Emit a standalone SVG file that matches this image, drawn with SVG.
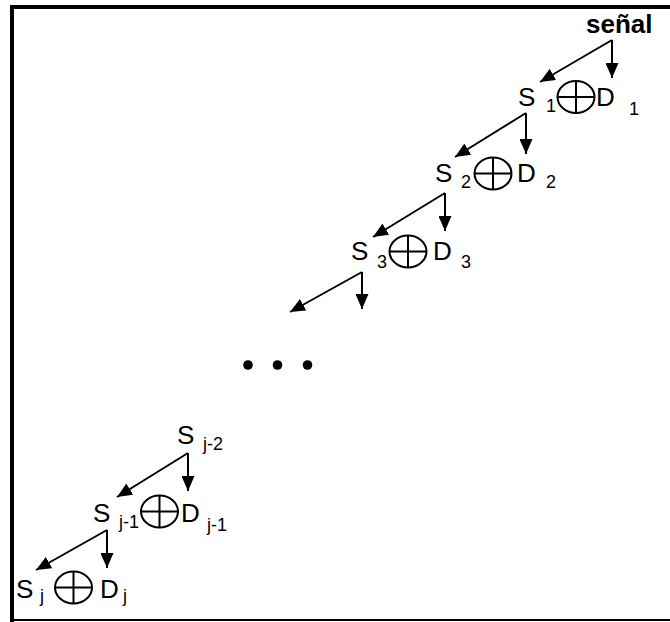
<svg xmlns="http://www.w3.org/2000/svg" width="670" height="622" viewBox="0 0 670 622">
<style>
  .t{font-family:"Liberation Sans",Arial,sans-serif;font-size:26px;fill:#000}
  .sub{font-family:"Liberation Sans",Arial,sans-serif;font-size:18px;fill:#000}
  .b{font-family:"Liberation Sans",Arial,sans-serif;font-size:26px;font-weight:bold;fill:#000}
  .op{fill:none;stroke:#000;stroke-width:2}
  .arr{stroke:#000;stroke-width:2;fill:none;marker-end:url(#ah)}
</style>
<defs>
  <marker id="ah" markerUnits="userSpaceOnUse" markerWidth="15" markerHeight="13" refX="15" refY="6.5" orient="auto">
    <path d="M0,0 L15,6.5 L0,13 Z" fill="#000"/>
  </marker>
  <g id="oplus">
    <ellipse class="op" cx="0" cy="0" rx="18.5" ry="16"/>
    <line class="op" x1="-18.5" y1="0" x2="18.5" y2="0"/>
    <line class="op" x1="0" y1="-16" x2="0" y2="16"/>
  </g>
</defs>
<rect x="0" y="0" width="670" height="622" fill="#fff"/>
<g id="frame">
  <rect x="10" y="5" width="660" height="4" fill="#000"/>
  <rect x="10" y="5" width="4" height="617" fill="#000"/>
  <rect x="10" y="619" width="660" height="2" fill="#000"/>
</g>
<g id="connectors">
  <line class="arr" x1="612" y1="40" x2="612" y2="78"/>
  <line class="arr" x1="612" y1="40" x2="540" y2="82"/>
  <line class="arr" x1="526" y1="113" x2="526" y2="154"/>
  <line class="arr" x1="526" y1="113" x2="455" y2="157"/>
  <line class="arr" x1="445" y1="193" x2="445" y2="231"/>
  <line class="arr" x1="445" y1="193" x2="373" y2="237"/>
  <line class="arr" x1="362" y1="272" x2="362" y2="309"/>
  <line class="arr" x1="362" y1="272" x2="290" y2="312"/>
  <line class="arr" x1="188" y1="453" x2="188" y2="491"/>
  <line class="arr" x1="188" y1="453" x2="117" y2="497"/>
  <line class="arr" x1="107" y1="530" x2="107" y2="568"/>
  <line class="arr" x1="107" y1="530" x2="36" y2="570"/>
</g>
<g id="signal">
  <text class="b" x="586" y="33">señal</text>
</g>
<g id="level1">
  <text class="t" x="518" y="106">S</text>
  <text class="sub" x="546" y="112">1</text>
  <use href="#oplus" x="576" y="97"/>
  <text class="t" x="596" y="106">D</text>
  <text class="sub" x="629" y="115">1</text>
</g>
<g id="level2">
  <text class="t" x="435" y="182">S</text>
  <text class="sub" x="461" y="188">2</text>
  <use href="#oplus" x="493" y="173.5"/>
  <text class="t" x="517" y="182">D</text>
  <text class="sub" x="546" y="188">2</text>
</g>
<g id="level3">
  <text class="t" x="351" y="260">S</text>
  <text class="sub" x="377" y="268">3</text>
  <use href="#oplus" x="408" y="251.5"/>
  <text class="t" x="433" y="260">D</text>
  <text class="sub" x="461" y="268">3</text>
</g>
<g id="ellipsis">
  <circle cx="248" cy="365" r="4.8" fill="#000"/>
  <circle cx="277.5" cy="365" r="4.8" fill="#000"/>
  <circle cx="307.5" cy="365" r="4.8" fill="#000"/>
</g>
<g id="levelj2">
  <text class="t" x="177" y="444">S</text>
  <text class="sub" x="203" y="450">j-2</text>
</g>
<g id="levelj1">
  <text class="t" x="93" y="522">S</text>
  <text class="sub" x="119" y="528">j-1</text>
  <use href="#oplus" x="159.5" y="511.5"/>
  <text class="t" x="181" y="522">D</text>
  <text class="sub" x="207" y="531">j-1</text>
</g>
<g id="levelj">
  <text class="t" x="16" y="598">S</text>
  <text class="sub" x="40" y="602">j</text>
  <use href="#oplus" x="73.5" y="587.5"/>
  <text class="t" x="100" y="598">D</text>
  <text class="sub" x="123" y="602">j</text>
</g>
</svg>
